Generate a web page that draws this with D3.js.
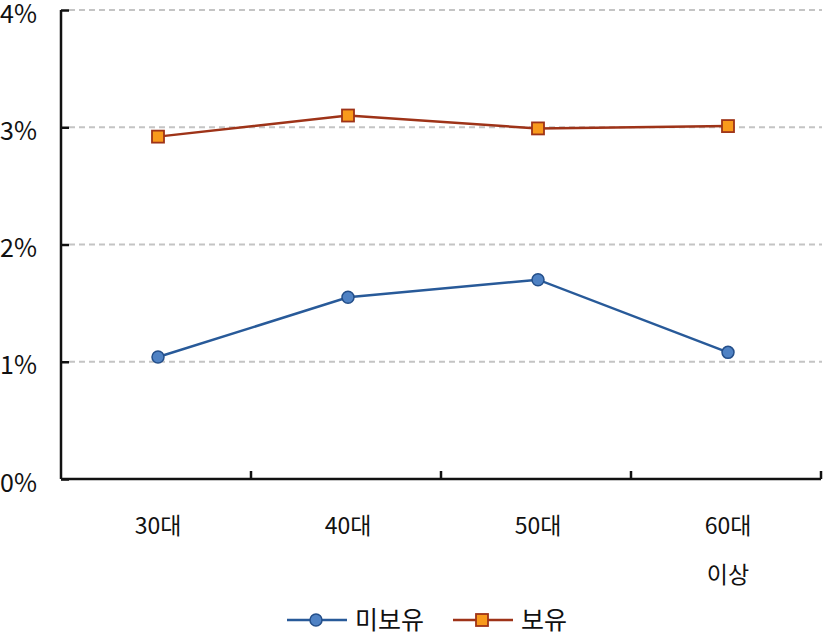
<!DOCTYPE html>
<html>
<head>
<meta charset="utf-8">
<script src="https://cdn.jsdelivr.net/npm/d3@7"></script>
<style>
  body { margin: 0; background: #fff; }
  text { font-family: "Malgun Gothic", "Noto Sans CJK KR", sans-serif; fill: #111; }
</style>
</head>
<body>
<script>
var categories = ["30대", "40대", "50대", "60대\n이상"];
var noOwn = [1.04, 1.55, 1.70, 1.08];   // 미보유
var own = [2.92, 3.10, 2.99, 3.01];     // 보유
var yTicks = [0, 1, 2, 3, 4];
var seriesNames = ["미보유", "보유"];

var W = 827, H = 641;
var margin = {top: 10, right: 5, bottom: 162, left: 61};
var w = W - margin.left - margin.right;
var h = H - margin.top - margin.bottom;

var svg = d3.select("body").append("svg")
    .attr("width", W)
    .attr("height", H)
  .append("g")
    .attr("transform", "translate(" + margin.left + "," + margin.top + ")");

var x = d3.scaleBand().domain(categories).range([0, 760]);
var y = d3.scaleLinear().domain([0, 4]).range([h, 0]);

// gridlines
svg.selectAll(".grid").data(yTicks.filter(function(d) { return d > 0; }))
  .enter().append("line")
    .attr("x1", 8).attr("x2", w)
    .attr("y1", function(d) { return y(d); })
    .attr("y2", function(d) { return y(d); })
    .attr("stroke", "#c4c4c4")
    .attr("stroke-width", 2)
    .attr("stroke-dasharray", "6,4");

// y axis
var yAxis = d3.axisLeft(y).tickValues(yTicks).tickSize(-8)
    .tickFormat(function(d) { return d + "%"; });
var gy = svg.append("g").call(yAxis);
gy.select(".domain").attr("stroke", "#111").attr("stroke-width", 2.5).attr("d", "M0,0V" + h);
gy.selectAll(".tick line").attr("stroke", "#111").attr("stroke-width", 2.5);
gy.selectAll(".tick text").attr("font-size", 25).attr("dy", "0.48em").attr("text-anchor", "end")
  .attr("x", -24);

// x axis
var gx = svg.append("g").attr("transform", "translate(0," + h + ")");
gx.append("line").attr("x1", 0).attr("x2", 760).attr("stroke", "#111").attr("stroke-width", 2.5);
gx.selectAll(".xt").data(categories).enter().append("line")
    .attr("x1", function(d) { return x(d) + x.bandwidth(); })
    .attr("x2", function(d) { return x(d) + x.bandwidth(); })
    .attr("y1", 0).attr("y2", -8)
    .attr("stroke", "#111").attr("stroke-width", 2.5);
gx.selectAll(".xl").data(categories).enter().append("text")
    .attr("text-anchor", "middle")
    .attr("font-size", 23)
    .attr("transform", function(d) { return "translate(" + (x(d) + x.bandwidth() / 2 + 2) + ",0)"; })
    .each(function(d) {
      var t = d3.select(this);
      d.split("\n").forEach(function(s, i) {
        t.append("tspan").attr("x", 0).attr("y", 55 + i * 49).text(s);
      });
    });

var cx = function(d, i) { return x(categories[i]) + x.bandwidth() / 2 + 2; };
var line = d3.line().x(function(d, i) { return cx(d, i); }).y(function(d) { return y(d); });

// 미보유
svg.append("path").datum(noOwn).attr("d", line)
  .attr("fill", "none").attr("stroke", "#285a99").attr("stroke-width", 2.5);
svg.selectAll(".c").data(noOwn).enter().append("circle")
  .attr("cx", cx).attr("cy", function(d) { return y(d); }).attr("r", 6)
  .attr("fill", "#4f82c4").attr("stroke", "#244f8a").attr("stroke-width", 1.5);

// 보유
svg.append("path").datum(own).attr("d", line)
  .attr("fill", "none").attr("stroke", "#9e3318").attr("stroke-width", 2.5);
svg.selectAll(".s").data(own).enter().append("rect")
  .attr("x", function(d, i) { return cx(d, i) - 6; })
  .attr("y", function(d) { return y(d) - 6; })
  .attr("width", 12).attr("height", 12)
  .attr("fill", "#f89a1c").attr("stroke", "#9e3318").attr("stroke-width", 1.8);

// legend
var lg = d3.select("svg").append("g").attr("transform", "translate(0,620)");
lg.append("line").attr("x1", 287).attr("x2", 347).attr("stroke", "#285a99").attr("stroke-width", 2.5);
lg.append("circle").attr("cx", 316).attr("r", 6)
  .attr("fill", "#4f82c4").attr("stroke", "#244f8a").attr("stroke-width", 1.5);
lg.append("text").attr("x", 355).attr("dy", "0.36em").attr("font-size", 25).text(seriesNames[0]);
lg.append("line").attr("x1", 453).attr("x2", 513).attr("stroke", "#9e3318").attr("stroke-width", 2.5);
lg.append("rect").attr("x", 476).attr("y", -6).attr("width", 12).attr("height", 12)
  .attr("fill", "#f89a1c").attr("stroke", "#9e3318").attr("stroke-width", 1.8);
lg.append("text").attr("x", 521).attr("dy", "0.36em").attr("font-size", 25).text(seriesNames[1]);
</script>
</body>
</html>
